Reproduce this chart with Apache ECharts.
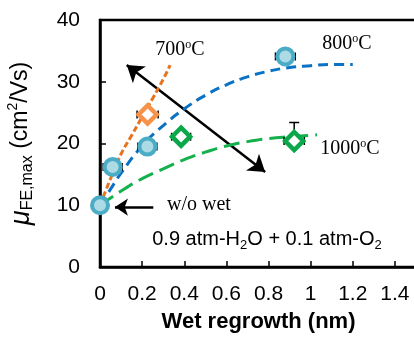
<!DOCTYPE html>
<html>
<head>
<meta charset="utf-8">
<script src="https://cdn.jsdelivr.net/npm/echarts@6/dist/echarts.min.js"></script>
<style>
html, body { margin: 0; padding: 0; background: #fff; }
#chart { width: 414px; height: 342px; }
</style>
</head>
<body>
<div id="chart"></div>
<script>
// measured points
var c800X = [0, 0.06, 0.225, 0.88];
var c800Y = [10, 16.2, 19.5, 34.1];
var c800Err = [0, 0.045, 0.045, 0.047];

var d700X = [0.226];
var d700Y = [24.7];
var d700Err = [0.05];

var d1000X = [0.385, 0.922];
var d1000Y = [21.1, 20.4];
var d1000Err = [0.045, 0.048];
var d1000ErrUp = [0, 3.0];

// fitted guide curves
var fit700X = [0, 0.05, 0.1, 0.15, 0.2, 0.25, 0.3, 0.333];
var fit700Y = [10, 14.3, 18.3, 21.3, 24.3, 27.3, 30.4, 32.7];
var fit800X = [0, 0.05, 0.1, 0.2, 0.3, 0.4, 0.5, 0.6, 0.7, 0.8, 0.9, 1.0, 1.1, 1.2];
var fit800Y = [10, 12.6, 15.2, 19.6, 22.9, 25.6, 27.8, 29.5, 30.8, 31.7, 32.3, 32.6, 32.8, 32.8];
var fit1000X = [0, 0.1, 0.2, 0.3, 0.4, 0.5, 0.6, 0.7, 0.8, 0.9, 1.03];
var fit1000Y = [10, 12.3, 14.3, 15.9, 17.4, 18.6, 19.6, 20.3, 20.8, 21.1, 21.4];

// annotation arrows (data coords)
var trendArrow = [[0.127, 32.7], [0.784, 15.4]];
var refArrow = [[0.253, 9.7], [0.071, 9.7]];

function zip(xs, ys) {
    return xs.map(function(x, i) { return [x, ys[i]]; });
}

function errRows(xs, ys, ex, ey) {
    return xs.map(function(x, i) { return [x, ys[i], ex[i], ey ? ey[i] : 0]; });
}

function renderErr(params, api) {
    var x = api.value(0), y = api.value(1), ex = api.value(2), ey = api.value(3);
    var st = { stroke: '#000', lineWidth: 1.5 };
    var c = api.coord([x, y]);
    var kids = [];
    var cap = 4;
    if (ex > 0) {
        var l = api.coord([x - ex, y])[0], r = api.coord([x + ex, y])[0];
        kids.push({ type: 'line', shape: { x1: l, y1: c[1], x2: r, y2: c[1] }, style: st });
        kids.push({ type: 'line', shape: { x1: l, y1: c[1] - cap, x2: l, y2: c[1] + cap }, style: st });
        kids.push({ type: 'line', shape: { x1: r, y1: c[1] - cap, x2: r, y2: c[1] + cap }, style: st });
    }
    if (ey > 0) {
        var t = api.coord([x, y + ey])[1];
        kids.push({ type: 'line', shape: { x1: c[0], y1: c[1], x2: c[0], y2: t }, style: st });
        kids.push({ type: 'line', shape: { x1: c[0] - cap - 1, y1: t, x2: c[0] + cap + 1, y2: t }, style: st });
    }
    return { type: 'group', children: kids };
}

var sans = 'Arial, "Liberation Sans", sans-serif';
var serif = '"Times New Roman", "Liberation Serif", serif';
var degRich = {
    n: { font: '20px ' + serif, fill: '#000', lineHeight: 22 },
    s: { font: '12px ' + serif, fill: '#000', lineHeight: 22, verticalAlign: 'top' }
};

var myChart = echarts.init(document.getElementById('chart'));
var option = {
    animation: false,
    backgroundColor: '#fff',
    grid: {
        left: 100, top: 20, width: 337, height: 247,
        outerBoundsMode: 'none', containLabel: false,
        show: true, borderColor: '#000', borderWidth: 2.5
    },
    xAxis: {
        type: 'value', min: 0, max: 1.6, interval: 0.2,
        name: 'Wet regrowth (nm)', nameLocation: 'middle', nameGap: 44,
        nameTextStyle: { fontFamily: sans, fontSize: 22, fontWeight: 'bold', color: '#000', padding: [0, 20, 0, 0] },
        axisLine: { lineStyle: { color: '#000', width: 2.5 } },
        axisTick: { inside: true, length: 6, lineStyle: { color: '#000', width: 1.5 } },
        axisLabel: { fontFamily: sans, fontSize: 21, color: '#000', margin: 17, showMaxLabel: false },
        splitLine: { show: false }
    },
    yAxis: {
        type: 'value', min: 0, max: 40, interval: 10,
        name: '{mu|μ}{sub|FE,max}{n| (cm}{sup|2}{n|/Vs)}',
        nameLocation: 'middle', nameGap: 64,
        nameTextStyle: {
            color: '#000',
            rich: {
                mu: { fontFamily: sans, fontStyle: 'italic', fontSize: 27, lineHeight: 30, color: '#000' },
                sub: { fontFamily: sans, fontSize: 16, lineHeight: 30, verticalAlign: 'bottom', color: '#000' },
                n: { fontFamily: sans, fontSize: 23, lineHeight: 30, color: '#000' },
                sup: { fontFamily: sans, fontSize: 14, lineHeight: 30, verticalAlign: 'top', color: '#000' }
            }
        },
        axisLine: { lineStyle: { color: '#000', width: 2.5 } },
        axisTick: { inside: true, length: 6, lineStyle: { color: '#000', width: 1.5 } },
        axisLabel: { fontFamily: sans, fontSize: 21, color: '#000', margin: 20 },
        splitLine: { show: false }
    },
    series: [
        {
            type: 'line', data: zip(fit700X, fit700Y), smooth: true, symbol: 'none', z: 2,
            lineStyle: { color: '#e8731f', width: 3, type: [6, 3] }
        },
        {
            type: 'line', data: zip(fit800X, fit800Y), smooth: true, symbol: 'none', z: 2,
            lineStyle: { color: '#0a72c4', width: 3, type: [10, 6] }
        },
        {
            type: 'lines', coordinateSystem: 'cartesian2d', z: 2,
            symbol: ['arrow', 'arrow'], symbolSize: 16,
            lineStyle: { color: '#000', width: 2.5, opacity: 1 },
            data: [{ coords: trendArrow }]
        },
        {
            type: 'line', data: zip(fit1000X, fit1000Y), smooth: true, symbol: 'none', z: 3,
            lineStyle: { color: '#13b04c', width: 3, type: [16, 7] }
        },
        {
            type: 'lines', coordinateSystem: 'cartesian2d', z: 3,
            symbol: ['none', 'arrow'], symbolSize: 13,
            lineStyle: { color: '#000', width: 2.5, opacity: 1 },
            data: [{ coords: refArrow }]
        },
        {
            type: 'custom', renderItem: renderErr, z: 4, encode: { x: 0, y: 1 },
            data: errRows(c800X, c800Y, c800Err)
                .concat(errRows(d700X, d700Y, d700Err))
                .concat(errRows(d1000X, d1000Y, d1000Err, d1000ErrUp))
        },
        {
            type: 'scatter', data: zip(c800X, c800Y), symbol: 'circle', symbolSize: 16, z: 5,
            itemStyle: { color: '#acdbe5', borderColor: '#4bacc6', borderWidth: 4, opacity: 1 }
        },
        {
            type: 'scatter', data: zip(d700X, d700Y), symbol: 'diamond', symbolSize: 18, z: 5,
            itemStyle: { color: '#fff', borderColor: '#f7924a', borderWidth: 4.5, opacity: 1 }
        },
        {
            type: 'scatter', data: zip(d1000X, d1000Y), symbol: 'diamond', symbolSize: 18, z: 5,
            itemStyle: { color: '#fff', borderColor: '#0aa84a', borderWidth: 4.5, opacity: 1 }
        }
    ],
    graphic: [
        {
            type: 'text', x: 180, y: 50, z: 10,
            style: { text: '{n|700}{s|o}{n|C}', align: 'center', verticalAlign: 'middle', rich: degRich }
        },
        {
            type: 'text', x: 347, y: 44, z: 10,
            style: { text: '{n|800}{s|o}{n|C}', align: 'center', verticalAlign: 'middle', rich: degRich }
        },
        {
            type: 'text', x: 350, y: 149, z: 10,
            style: { text: '{n|1000}{s|o}{n|C}', align: 'center', verticalAlign: 'middle', rich: degRich }
        },
        {
            type: 'text', x: 167, y: 205, z: 10,
            style: { text: 'w/o wet', font: '20px ' + serif, fill: '#000', align: 'left', verticalAlign: 'middle' }
        },
        {
            type: 'text', x: 267, y: 239, z: 10,
            style: {
                text: '{n|0.9 atm-H}{b|2}{n|O + 0.1 atm-O}{b|2}', align: 'center', verticalAlign: 'middle',
                rich: {
                    n: { font: '20px ' + sans, fill: '#000', lineHeight: 26 },
                    b: { font: '13px ' + sans, fill: '#000', lineHeight: 26, verticalAlign: 'bottom' }
                }
            }
        }
    ]
};
myChart.setOption(option);
</script>
</body>
</html>
